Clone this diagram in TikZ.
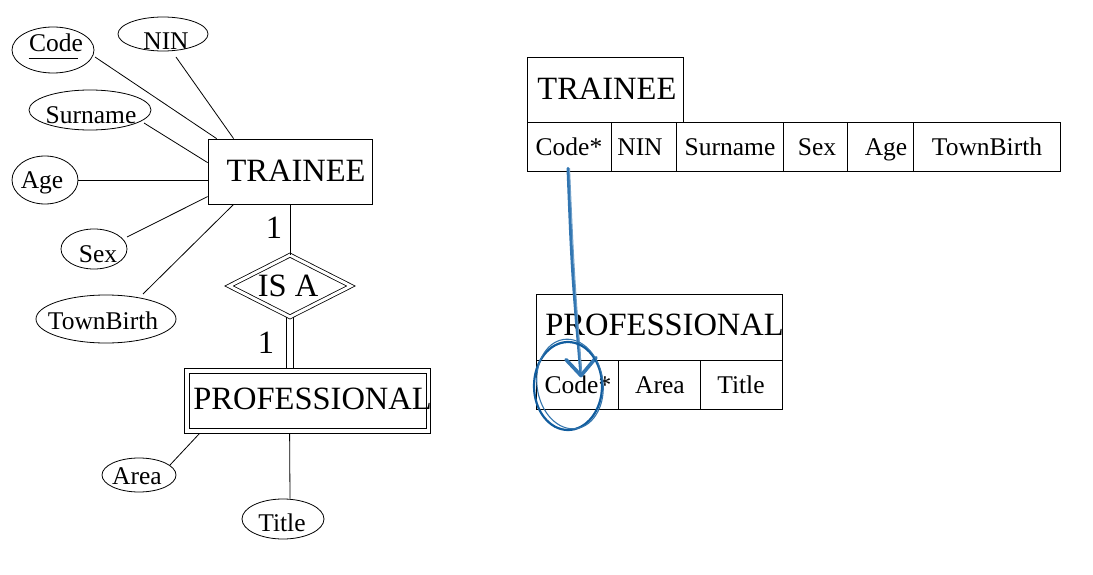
\documentclass[tikz,border=0pt]{standalone}
\usepackage{fontspec}
\setmainfont{Liberation Serif}
\usetikzlibrary{shapes.geometric,calc}
\definecolor{penblue}{RGB}{50,118,178}
\definecolor{inkblue}{RGB}{16,92,158}
\begin{document}
\begin{tikzpicture}[x=1pt,y=-1pt,line width=0.8pt,
  attr/.style={draw, ellipse, inner sep=0pt},
  ent/.style={draw, rectangle, inner sep=0pt},
  cellbox/.style={draw, rectangle, inner sep=0pt, minimum height=49pt},
  bigtxt/.style={font=\fontsize{32.5}{38}\selectfont, inner sep=0pt},
  smltxt/.style={font=\fontsize{25.5}{30}\selectfont, inner sep=0pt},
]
\useasboundingbox (0,0) rectangle (1093,575);

% ---------------- ER diagram (left) ----------------
\node[ent, minimum width=164pt, minimum height=65pt] (tr) at (290,171.5) {};
\node[bigtxt, anchor=base] (trt) at (296,182) {TRAINEE};

\node[attr, minimum width=82pt, minimum height=46pt] (code) at (53,50) {};
\node[smltxt, anchor=base] (codet) at (56,52) {Code};
\draw ($(codet.base west)+(0,6)$) -- ($(codet.base east)+(-5,6)$);

\node[attr, minimum width=90pt, minimum height=34pt] (nin) at (163,34) {};
\node[smltxt, anchor=base] (nint) at (166,50) {NIN};

\node[attr, minimum width=122pt, minimum height=40pt] (surname) at (90,110) {};
\node[smltxt, anchor=base] (surnamet) at (91,123.5) {Surname};

\node[attr, minimum width=66pt, minimum height=48pt] (age) at (45,180) {};
\node[smltxt, anchor=base] (aget) at (42,188.5) {Age};

\node[attr, minimum width=66pt, minimum height=40pt] (sex) at (94,249) {};
\node[smltxt, anchor=base] (sext) at (98,262) {Sex};

\node[attr, minimum width=140pt, minimum height=48pt] (town) at (106,319) {};
\node[smltxt, anchor=base] (townt) at (103,329) {TownBirth};

\draw ($(code.center)+(42,7)$) -- ($(tr.north west)+(9,0)$);
\draw ($(nin.center)+(13,23)$) -- ($(tr.north west)+(26,0)$);
\draw ($(surname.center)+(54,13)$) -- ($(tr.north west)+(0,24)$);
\draw (age.east) -- (age.east -| tr.west);
\draw ($(sex.center)+(33,-12)$) -- ($(tr.north west)+(0,58)$);
\draw ($(town.center)+(37,-25)$) -- ($(tr.south west)+(26,0)$);

\node[draw, diamond, double, double distance=3pt, minimum width=122pt, minimum height=62pt, inner sep=0pt] (isa) at (290,286) {};
\node[bigtxt, anchor=base] (isat) at (288,296) {IS A};
\draw (tr.south) -- (isa.north);
\node[bigtxt, anchor=base] (one1) at (274,238) {1};

\node[ent, minimum width=246pt, minimum height=65pt] (prof) at (307,400.5) {};
\node[ent, minimum width=237pt, minimum height=55pt] (profin) at (307.5,400.5) {};
\node[bigtxt, anchor=base west] (proft) at (193,409.5) {PROFESSIONAL};
\draw ($(isa.south)+(-3.3,0)$) -- ($(isa.south |- prof.north)+(-3.3,0)$);
\draw ($(isa.south)+(3.3,0)$) -- ($(isa.south |- prof.north)+(3.3,0)$);
\node[bigtxt, anchor=base] (one2) at (266,353) {1};

\node[attr, minimum width=74pt, minimum height=34pt] (area) at (139,475) {};
\node[smltxt, anchor=base] (areat) at (137,484) {Area};
\node[attr, minimum width=82pt, minimum height=40pt] (title) at (283,519) {};
\node[smltxt, anchor=base] (titlet) at (282,531) {Title};
\draw ($(area.center)+(31,-10)$) -- ($(prof.south west)+(16,0)$);
\draw ($(title.north)+(7,0)$) -- ($(prof.south west)+(106,0)$);

% ---------------- Relational tables (right) ----------------
\node[ent, minimum width=156pt, minimum height=65pt] (rtr) at (605,89.5) {};
\node[bigtxt, anchor=base west] (rtrt) at (537,100) {TRAINEE};
\node[cellbox, minimum width=84pt]  (tc1) at (569,146.5) {};
\node[cellbox, minimum width=65pt]  (tc2) at (643.5,146.5) {};
\node[cellbox, minimum width=107pt] (tc3) at (729.5,146.5) {};
\node[cellbox, minimum width=64pt]  (tc4) at (815,146.5) {};
\node[cellbox, minimum width=66pt]  (tc5) at (880,146.5) {};
\node[cellbox, minimum width=147pt] (tc6) at (986.5,146.5) {};
\node[smltxt, anchor=base] at (569,156) {Code*};
\node[smltxt, anchor=base] at (640,156) {NIN};
\node[smltxt, anchor=base] at (730,156) {Surname};
\node[smltxt, anchor=base] at (817,156) {Sex};
\node[smltxt, anchor=base] at (886,156) {Age};
\node[smltxt, anchor=base] at (987,156) {TownBirth};

\node[ent, minimum width=246pt, minimum height=66pt] (rpr) at (659,327) {};
\node[bigtxt, anchor=base west] (rprt) at (545,335) {PROFESSIONAL};
\node[cellbox, minimum width=82pt] (pc1) at (577,384.5) {};
\node[cellbox, minimum width=82pt] (pc2) at (659,384.5) {};
\node[cellbox, minimum width=82pt] (pc3) at (741,384.5) {};
\node[smltxt, anchor=base] at (578,393) {Code*};
\node[smltxt, anchor=base] at (660,393) {Area};
\node[smltxt, anchor=base] at (741,393) {Title};

% ---------------- hand-drawn foreign key arrow ----------------
\coordinate (fkstart) at ($(tc1.south)+(-1,-3)$);
\coordinate (fktip) at ($(pc1.north)+(4,16)$);
\draw[penblue, line width=3pt, line cap=round] (fkstart) .. controls (572,270) .. (fktip);
\draw[penblue!70!white, line width=1pt, line cap=round] ($(fkstart)+(1.5,0)$) .. controls (574,270) .. ($(fktip)+(0.5,-3)$);
\draw[penblue, line width=3.6pt, line cap=round, line join=round] ($(fktip)+(-15,-16)$) -- (fktip) -- ($(fktip)+(15,-18)$);
\draw[inkblue, line width=2.2pt] (568,386) ellipse [x radius=34, y radius=44];
\draw[inkblue!85!white, line width=1.1pt, rotate around={8:(570,384)}] (570,384) ellipse [x radius=33, y radius=45];
\end{tikzpicture}
\end{document}
